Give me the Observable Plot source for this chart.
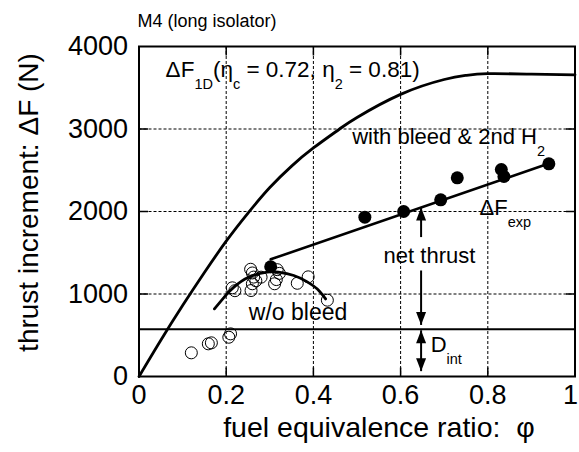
<!DOCTYPE html>
<html><head><meta charset="utf-8">
<script src="https://cdn.jsdelivr.net/npm/d3@7"></script>
<script src="https://cdn.jsdelivr.net/npm/@observablehq/plot@0.6"></script>
<style>
html,body{margin:0;padding:0;background:#fff;}
#chart svg{display:block;}
#chart svg text{white-space:pre;}
</style></head><body><div id="chart"></div>
<script>
// ---- axes ----
const xTicks = [0, 0.2, 0.4, 0.6, 0.8, 1];
const xTickLabels = ["0", "0.2", "0.4", "0.6", "0.8", "1"];
const yTicks = [0, 1000, 2000, 3000, 4000];
const yTickLabels = ["0", "1000", "2000", "3000", "4000"];
const xGrid = [0.2, 0.4, 0.6, 0.8];
const yGrid = [1000, 2000, 3000];
const titleText = "M4 (long isolator)";
const xTitle = "fuel equivalence ratio: \u00a0φ";
const yTitle = "thrust increment: ΔF (N)";

// ---- ΔF1D (ηc = 0.72, η2 = 0.81) curve ----
const f1dPhi    = [0, 0.05, 0.1, 0.15, 0.2, 0.25, 0.3, 0.35, 0.4, 0.46, 0.5, 0.6, 0.7, 0.75, 0.8, 0.9, 1.0];
const f1dThrust = [0, 440, 860, 1260, 1640, 1980, 2290, 2550, 2770, 3000, 3140, 3420, 3600, 3650, 3670, 3665, 3657];

// ---- with bleed & 2nd H2 (filled) ----
const bleedPhi    = [0.302, 0.518, 0.607, 0.692, 0.730, 0.831, 0.837, 0.940];
const bleedThrust = [1330, 1931, 2000, 2142, 2408, 2509, 2424, 2578];
// ΔFexp fit line
const fitPhi    = [0.302, 0.95];
const fitThrust = [1420, 2600];

// ---- w/o bleed (open) ----
const noBleedPhi    = [0.120, 0.159, 0.166, 0.206, 0.210, 0.214, 0.220, 0.256, 0.260, 0.263, 0.260, 0.257, 0.268, 0.280, 0.317, 0.322, 0.315, 0.311, 0.363, 0.388, 0.432];
const noBleedThrust = [287, 396, 408, 476, 517, 1075, 1040, 1300, 1255, 1205, 1124, 1042, 1160, 1204, 1295, 1250, 1175, 1124, 1130, 1208, 925];
const arcPhi    = [0.173, 0.2, 0.217, 0.25, 0.294, 0.32, 0.355, 0.385, 0.409, 0.428];
const arcThrust = [820, 990, 1080, 1200, 1265, 1265, 1224, 1150, 1060, 940];

// ---- D_int ----
const dInt = 572;

// ---- annotation arrows ----
const shaftPhi = [0.647, 0.647, 0.647];
const shaftFrom = [1690, 1285, 560];
const shaftTo   = [2048, 625, 65];
const headPhi    = [0.647, 0.647, 0.647, 0.647];
const headThrust = [2048, 625, 560, 65];
const headDir    = ["up", "down", "up", "down"];

// ---- annotation texts ----
const annoParts = [
  [["ΔF"], ["1D", "sub"], ["(η"], ["c", "sub"], [" = 0.72, η"], ["2", "sub"], [" = 0.81)"]],
  [["with bleed & 2nd H"], ["2", "sub"]],
  [["ΔF"], ["exp", "sub"]],
  [["net thrust"]],
  [["w/o bleed"]],
  [["D"], ["int", "sub"]]
];
const annoPhi    = [0.061, 0.489, 0.781, 0.561, 0.252, 0.669];
const annoThrust = [3628, 2820, 1952, 1370, 679, 295];
const annoSize   = [22.5, 22, 22, 22, 23, 22];

// ---- build tables ----
const zip = (xs, ys) => xs.map((x, i) => ({x, y: ys[i]}));
const f1d = zip(f1dPhi, f1dThrust);
const bleed = zip(bleedPhi, bleedThrust);
const fit = zip(fitPhi, fitThrust);
const noBleed = zip(noBleedPhi, noBleedThrust);
const arc = zip(arcPhi, arcThrust);
const shafts = shaftPhi.map((x, i) => ({x, y1: shaftFrom[i], y2: shaftTo[i]}));
const heads = headPhi.map((x, i) => ({x, y: headThrust[i], dir: headDir[i]}));
const annos = annoParts.map((p, i) => ({text: p.map(s => s[0]).join(""), x: annoPhi[i], y: annoThrust[i], size: annoSize[i], parts: p}));
const xTickMain = xTicks.slice(0, -1);
const xTickLast = xTicks.slice(-1);

const headUp = {draw(c) { c.moveTo(0, 0); c.lineTo(-5, 13); c.lineTo(5, 13); c.closePath(); }};
const headDown = {draw(c) { c.moveTo(0, 0); c.lineTo(-5, -13); c.lineTo(5, -13); c.closePath(); }};
const tickUp = {draw(c) { c.moveTo(0, 0); c.lineTo(0, -9); }};
const tickDown = {draw(c) { c.moveTo(0, 0); c.lineTo(0, 9); }};
const tickRight = {draw(c) { c.moveTo(0, 0); c.lineTo(9, 0); }};
const tickLeft = {draw(c) { c.moveTo(0, 0); c.lineTo(-9, 0); }};

const font = "'Liberation Sans', Arial, Helvetica, sans-serif";
const tickFont = 27;

const plot = Plot.plot({
  width: 579, height: 452,
  marginTop: 46, marginLeft: 138.5, marginRight: 4.5, marginBottom: 76,
  x: {domain: [0, 1]},
  y: {domain: [0, 4000]},
  style: {fontFamily: font, color: "black", background: "white", overflow: "visible"},
  marks: [
    Plot.ruleX(xGrid, {stroke: "black", strokeWidth: 1, strokeDasharray: "3,2"}),
    Plot.ruleY(yGrid, {stroke: "black", strokeWidth: 1, strokeDasharray: "3,2"}),
    Plot.ruleY([dInt], {stroke: "black", strokeWidth: 2}),
    Plot.line(f1d, {x: "x", y: "y", curve: "natural", stroke: "black", strokeWidth: 2.8}),
    Plot.line(arc, {x: "x", y: "y", curve: "natural", stroke: "black", strokeWidth: 2.8}),
    Plot.line(fit, {x: "x", y: "y", stroke: "black", strokeWidth: 2.6}),
    Plot.dot(noBleed, {x: "x", y: "y", r: 6, stroke: "black", strokeWidth: 1, fill: "none"}),
    Plot.dot(bleed, {x: "x", y: "y", r: 6.5, fill: "black", stroke: "none"}),
    Plot.link(shafts, {x1: "x", x2: "x", y1: "y1", y2: "y2", stroke: "black", strokeWidth: 2}),
    Plot.dot(heads.filter(d => d.dir === "up"), {x: "x", y: "y", symbol: headUp, fill: "black", stroke: "none"}),
    Plot.dot(heads.filter(d => d.dir === "down"), {x: "x", y: "y", symbol: headDown, fill: "black", stroke: "none"}),
    Plot.frame({stroke: "black", strokeWidth: 2}),
    Plot.dot(xGrid, {x: d => d, frameAnchor: "bottom", symbol: tickUp, stroke: "black", fill: "none", strokeWidth: 1.5}),
    Plot.dot(xGrid, {x: d => d, frameAnchor: "top", symbol: tickDown, stroke: "black", fill: "none", strokeWidth: 1.5}),
    Plot.dot(yGrid, {y: d => d, frameAnchor: "left", symbol: tickRight, stroke: "black", fill: "none", strokeWidth: 1.5}),
    Plot.dot(yGrid, {y: d => d, frameAnchor: "right", symbol: tickLeft, stroke: "black", fill: "none", strokeWidth: 1.5}),
    Plot.axisX(xTickMain, {tickFormat: d => xTickLabels[xTicks.indexOf(d)], tickSize: 0, tickPadding: 8, fontSize: tickFont, label: null}),
    Plot.axisX(xTickLast, {tickFormat: d => xTickLabels[xTicks.indexOf(d)], tickSize: 0, tickPadding: 8, fontSize: tickFont, textAnchor: "end", dx: 3, label: null}),
    Plot.axisY(yTicks, {tickFormat: d => yTickLabels[yTicks.indexOf(d)], tickSize: 0, tickPadding: 11, fontSize: tickFont, label: null}),
    Plot.text(annos, {x: "x", y: "y", text: "text", fontSize: "size", textAnchor: "start", lineAnchor: "bottom", fill: "black"}),
    Plot.text([titleText], {frameAnchor: "top-left", dx: -1.5, dy: -19.3, textAnchor: "start", lineAnchor: "bottom", fontSize: 18}),
    Plot.text([xTitle], {frameAnchor: "bottom", dx: 22, dy: 60, lineAnchor: "bottom", fontSize: 28.5}),
    Plot.text([yTitle], {frameAnchor: "left", rotate: -90, dx: -109.5, dy: -9, textAnchor: "middle", lineAnchor: "middle", fontSize: 28})
  ]
});

// subscripts
d3.select(plot).selectAll("text").each(function () {
  const a = annos.find(o => o.text === this.textContent && o.parts.length > 1);
  if (!a) return;
  const sel = d3.select(this);
  sel.text(null);
  let down = false;
  for (const [t, kind] of a.parts) {
    const ts = sel.append("tspan").text(t);
    if (kind === "sub") {
      ts.attr("font-size", 14.5).attr("dy", down ? null : 12);
      down = true;
    } else {
      if (down) ts.attr("dy", -12);
      down = false;
    }
  }
});

document.getElementById("chart").appendChild(plot);
</script></body></html>
